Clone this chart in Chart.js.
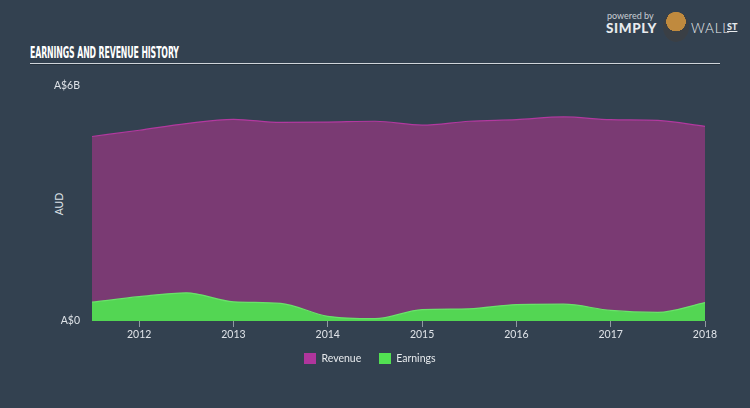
<!DOCTYPE html>
<html>
<head>
<meta charset="utf-8">
<script src="https://cdn.jsdelivr.net/npm/chart.js@4"></script>
<style>
  html, body { margin: 0; padding: 0; }
  body {
    width: 750px; height: 408px; overflow: hidden; position: relative;
    background: #334150;
    font-family: Lato, "Open Sans", sans-serif;
  }
  #chart { position: absolute; left: 0; top: 0; }
  .title {
    position: absolute; left: 30px; top: 44px;
    color: #fff; font-family: "Liberation Sans Narrow", "DejaVu Sans Condensed", sans-serif;
    font-weight: bold; font-size: 15px; letter-spacing: -0.2px; white-space: nowrap;
    transform: scaleX(0.58); transform-origin: left top;
  }
  .rule { position: absolute; left: 30px; top: 63px; width: 690px; height: 1px;
    background: #cfd4da; box-shadow: 0 1px 0 #24303c; }
  .aud { position: absolute; left: 44px; top: 198px; width: 30px; text-align: center;
    color: #dfe3e8; font-size: 10.5px; transform: rotate(-90deg); }
  .logo { position: absolute; left: 606px; top: 8px; color: #e8ebee; }
  .logo .pw { font-size: 9px; position: absolute; left: 1px; top: 2px; color: #c9ced4; white-space: nowrap; }
  .logo .s { font-size: 13.5px; font-weight: 900; position: absolute; left: 0; top: 12px; letter-spacing: 0.6px; }
  .logo .bull { position: absolute; left: 57px; top: 4px; width: 26px; height: 30px; border-radius: 45% 45% 50% 50%;
    background: radial-gradient(circle at 50% 32%, #c08a3e 0 40%, #3a3f45 41%); }
  .logo .w { font-size: 13.5px; font-weight: 300; position: absolute; left: 85px; top: 12px; letter-spacing: 0.8px; }
  .logo .st { font-size: 9px; font-weight: 900; position: absolute; left: 121px; top: 13px; text-decoration: underline; }
  #legend { position: absolute; left: -5px; width: 750px; top: 352px; text-align: center; font-size: 10.5px; color: #e6e9ec; }
  #legend span.item { display: inline-block; margin: 0 9px; }
  #legend i { display: inline-block; width: 12px; height: 11px; vertical-align: -2px; margin-right: 5px; }
</style>
</head>
<body>
<div class="title">EARNINGS AND REVENUE HISTORY</div>
<div class="rule"></div>
<div class="logo">
  <span class="pw">powered by</span>
  <span class="s">SIMPLY</span>
  <span class="bull"></span>
  <span class="w">WALL</span>
  <span class="st">ST</span>
</div>
<div class="aud">AUD</div>
<canvas id="chart" width="750" height="408"></canvas>
<div id="legend"></div>
<script>
// semestres (ano decimal) e valores em bilhoes de AUD
const periods = [2011.5, 2012.0, 2012.5, 2013.0, 2013.5, 2014.0, 2014.5,
                 2015.0, 2015.5, 2016.0, 2016.5, 2017.0, 2017.5, 2018.0];
const revenue = [4.71, 4.87, 5.04, 5.15, 5.07, 5.08, 5.10,
                 5.00, 5.10, 5.14, 5.21, 5.14, 5.12, 4.97];
const earnings = [0.48, 0.62, 0.72, 0.49, 0.45, 0.12, 0.06,
                  0.29, 0.31, 0.42, 0.43, 0.27, 0.22, 0.47];
const yearTicks = [2012, 2013, 2014, 2015, 2016, 2017, 2018];
const yTicks = [0, 6];
const yTickLabels = ['A$0', 'A$6B'];

const COLORS = {
  revLine: '#b2399f', revFill: '#7a3a73', revKey: '#b0359c',
  earnLine: '#6ae26a', earnFill: '#53d653', earnKey: '#52e052',
  text: '#dfe3e8', tick: 'rgba(220,225,230,0.55)',
};

const FONT = { family: 'Lato, "Open Sans", sans-serif', size: 10.5 };

const toPts = (vals) => periods.map((x, i) => ({ x, y: vals[i] }));

const datasets = [
  {
    label: 'Revenue', data: toPts(revenue), order: 1,
    borderColor: COLORS.revLine, backgroundColor: COLORS.revFill, key: COLORS.revKey,
  },
  {
    label: 'Earnings', data: toPts(earnings), order: 0,
    borderColor: COLORS.earnLine, backgroundColor: COLORS.earnFill, key: COLORS.earnKey,
  },
].map((d) => ({
  ...d, fill: 'origin', borderWidth: 1.2, pointRadius: 0,
  cubicInterpolationMode: 'monotone',
}));

const chart = new Chart(document.getElementById('chart'), {
  type: 'line',
  data: { datasets },
  options: {
    responsive: false,
    animation: false,
    layout: { padding: { left: 52, right: 45, top: 86, bottom: 67 } },
    plugins: { legend: { display: false }, tooltip: { enabled: false } },
    scales: {
      x: {
        type: 'linear',
        min: periods[0], max: periods[periods.length - 1],
        afterFit: (s) => { s.height = 20; },
        afterBuildTicks: (s) => { s.ticks = yearTicks.map((v) => ({ value: v })); },
        border: { display: false },
        grid: { drawOnChartArea: false, drawTicks: true, tickLength: 6, color: COLORS.tick },
        ticks: {
          color: COLORS.text, padding: 1, maxRotation: 0, autoSkip: false,
          font: FONT,
          callback: (v) => String(v),
        },
      },
      y: {
        min: 0, max: 6,
        afterFit: (s) => { s.width = 40; },
        afterBuildTicks: (s) => { s.ticks = yTicks.map((v) => ({ value: v })); },
        border: { display: false },
        grid: { display: false, drawTicks: false },
        ticks: {
          color: COLORS.text, padding: 12,
          font: FONT,
          callback: (v) => yTickLabels[yTicks.indexOf(v)],
        },
      },
    },
  },
});

// legenda em html, montada a partir dos datasets
document.getElementById('legend').innerHTML = chart.data.datasets
  .map((d) => `<span class="item"><i style="background:${d.key}"></i>${d.label}</span>`)
  .join('');
</script>
</body>
</html>
